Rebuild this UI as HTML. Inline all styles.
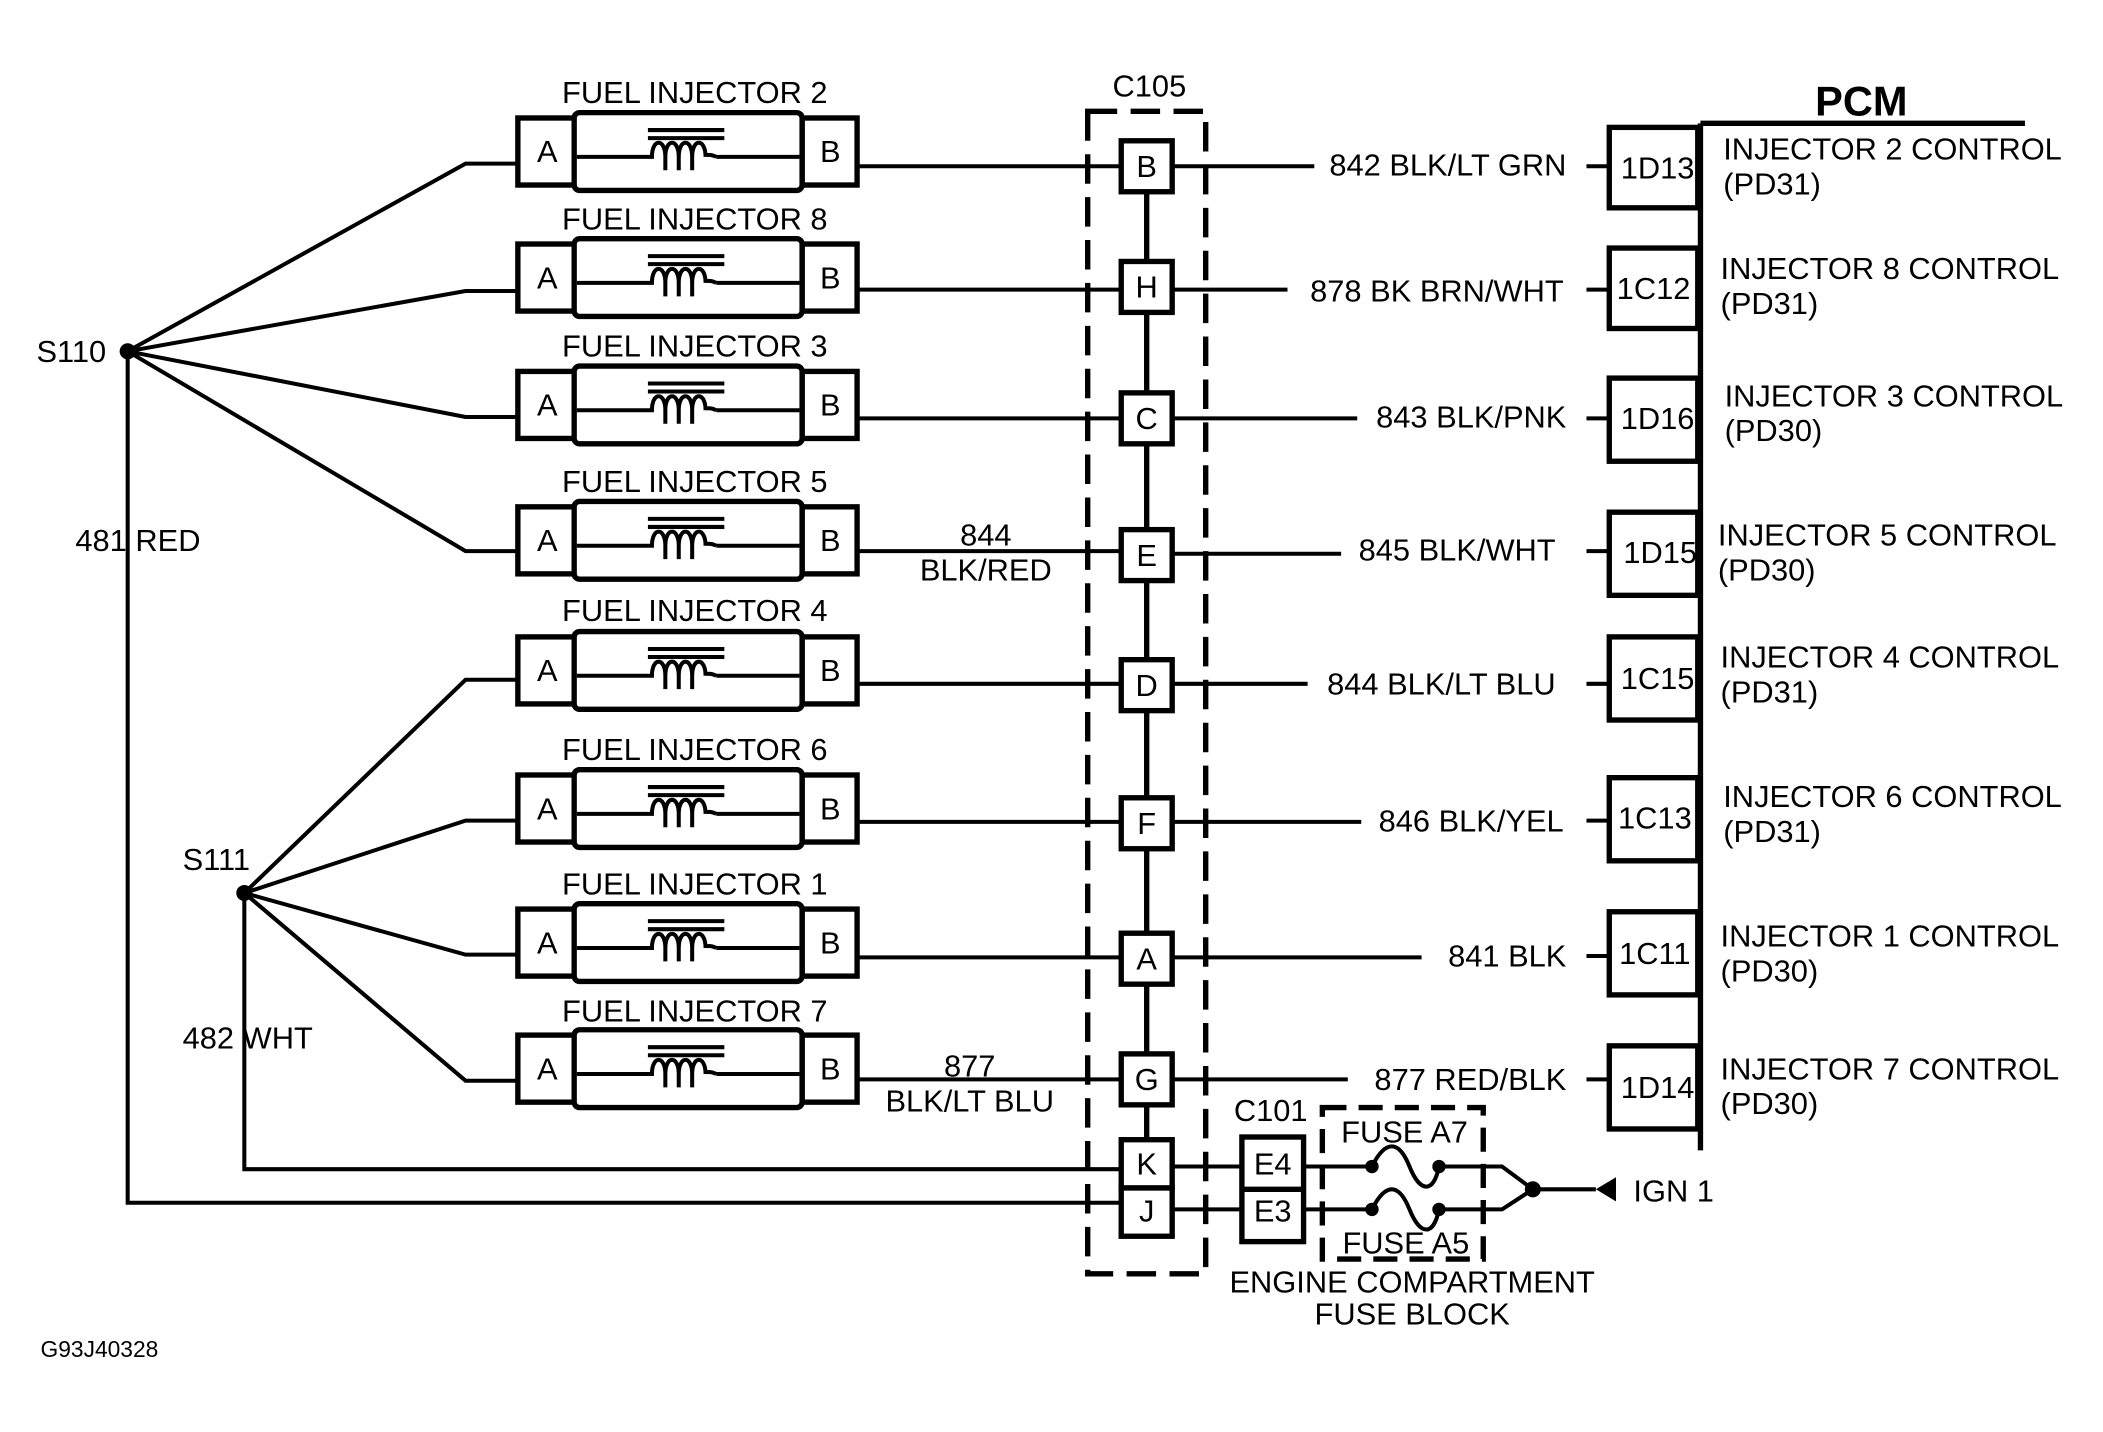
<!DOCTYPE html>
<html><head><style>html,body{margin:0;padding:0;background:#fff}svg{display:block}</style></head><body>
<svg width="2103" height="1432" viewBox="0 0 1568 1068" xmlns="http://www.w3.org/2000/svg" font-family="Liberation Sans, sans-serif" font-size="23" fill="#000">
<defs>
<g id="inj">
 <rect x="386" y="-25" width="43" height="50" fill="#fff" stroke="#000" stroke-width="4"/>
 <rect x="598" y="-25" width="41" height="50" fill="#fff" stroke="#000" stroke-width="4"/>
 <rect x="428" y="-29" width="170" height="58" rx="4" fill="#fff" stroke="#000" stroke-width="4"/>
 <path d="M430 4 H486 c0 -14 10 -14 10 0 v10 M496 4 c0 -14 10 -14 10 0 v10 M506 4 c0 -14 10 -14 10 0 v10 M516 4 c0 -14 10 -14 10 0 c0 -2 4 -2 8 0 M534 4 H596" fill="none" stroke="#000" stroke-width="3"/>
 <line x1="483" y1="-16" x2="540" y2="-16" stroke="#000" stroke-width="3"/>
 <line x1="483" y1="-10" x2="540" y2="-10" stroke="#000" stroke-width="3"/>
 <text x="408" y="8" text-anchor="middle">A</text>
 <text x="619" y="8" text-anchor="middle">B</text>
</g>
</defs>
<g stroke="#000" stroke-width="3" fill="none">
 <path d="M95 262 L347 122 H386 M95 262 L347 217 H386 M95 262 L347 311 H386 M95 262 L347 411 H386"/>
 <path d="M182 666 L347 507 H386 M182 666 L347 612 H386 M182 666 L347 712 H386 M182 666 L347 806 H386"/>
 <path d="M95 262 V897 H835 M182 666 V872 H835"/>
 <path d="M639 124 H835 M639 216 H835 M639 312 H835 M639 411 H835 M639 510 H835 M639 613 H835 M639 714 H835 M639 805 H835"/>
 <path d="M875 124 H980 M875 216 H960 M875 312 H1012 M875 413 H1000 M875 510 H975 M875 613 H1015 M875 714 H1060 M875 805 H1005"/>
 <path d="M1183 124 H1200 M1183 216 H1200 M1183 312 H1200 M1183 411 H1200 M1183 510 H1200 M1183 612 H1200 M1183 713 H1200 M1183 805 H1200"/>
 <path d="M855 124 V905" stroke-width="4"/>
 <rect x="811" y="83" width="88" height="867" stroke-width="4" stroke-dasharray="22 10"/>
 <path d="M875 870 H930 M875 902 H930 M970 870 H1023 M970 902 H1023"/>
 <path d="M1073 870 H1120 L1143 887 M1073 902 H1120 L1143 887 H1190"/>
 <path d="M1023 870 c10 -20 20 -20 28 0 c8 20 18 20 22 0 M1023 902 c10 -20 20 -20 28 0 c8 20 18 20 22 0"/>
 <rect x="986" y="826" width="120" height="113" stroke-width="4" stroke-dasharray="18 9"/>
 <path d="M1268 92 V858 M1268 92 H1510" stroke-width="4"/>
</g>
<circle cx="95" cy="262" r="6"/><circle cx="182" cy="666" r="6"/>
<circle cx="1023" cy="870" r="5"/><circle cx="1073" cy="870" r="5"/>
<circle cx="1023" cy="902" r="5"/><circle cx="1073" cy="902" r="5"/>
<circle cx="1143" cy="887" r="6"/>
<polygon points="1190,887 1205,878 1205,896"/>
<use href="#inj" y="113"/><use href="#inj" y="207"/><use href="#inj" y="302"/><use href="#inj" y="403"/>
<use href="#inj" y="500"/><use href="#inj" y="603"/><use href="#inj" y="703"/><use href="#inj" y="797"/>
<g text-anchor="middle">
 <text x="518" y="77">FUEL INJECTOR 2</text><text x="518" y="171">FUEL INJECTOR 8</text>
 <text x="518" y="266">FUEL INJECTOR 3</text><text x="518" y="367">FUEL INJECTOR 5</text>
 <text x="518" y="463">FUEL INJECTOR 4</text><text x="518" y="567">FUEL INJECTOR 6</text>
 <text x="518" y="667">FUEL INJECTOR 1</text><text x="518" y="762">FUEL INJECTOR 7</text>
 <text x="857" y="72">C105</text>
 <text x="735" y="407">844</text><text x="735" y="433">BLK/RED</text>
 <text x="723" y="803">877</text><text x="723" y="829">BLK/LT BLU</text>
 <text x="1053" y="964">ENGINE COMPARTMENT</text><text x="1053" y="988">FUSE BLOCK</text>
 <text x="1388" y="86" font-weight="bold" font-size="31">PCM</text>
</g>
<g fill="#fff" stroke="#000" stroke-width="4">
 <rect x="836" y="105" width="38" height="38"/><rect x="836" y="195" width="38" height="38"/>
 <rect x="836" y="293" width="38" height="38"/><rect x="836" y="395" width="38" height="38"/>
 <rect x="836" y="492" width="38" height="38"/><rect x="836" y="595" width="38" height="38"/>
 <rect x="836" y="696" width="38" height="38"/><rect x="836" y="786" width="38" height="38"/>
 <rect x="836" y="850" width="38" height="36"/><rect x="836" y="886" width="38" height="36"/>
 <rect x="926" y="848" width="46" height="78"/>
 <line x1="926" y1="887" x2="972" y2="887"/>
 <rect x="1200" y="95" width="66" height="60"/><rect x="1200" y="185" width="66" height="60"/>
 <rect x="1200" y="282" width="66" height="62"/><rect x="1200" y="382" width="66" height="62"/>
 <rect x="1200" y="475" width="66" height="62"/><rect x="1200" y="580" width="66" height="62"/>
 <rect x="1200" y="680" width="66" height="62"/><rect x="1200" y="780" width="66" height="62"/>
</g>
<g text-anchor="middle">
 <text x="855" y="132">B</text><text x="855" y="222">H</text><text x="855" y="320">C</text>
 <text x="855" y="422">E</text><text x="855" y="519">D</text><text x="855" y="622">F</text>
 <text x="855" y="723">A</text><text x="855" y="813">G</text><text x="855" y="876">K</text><text x="855" y="911">J</text>
 <text x="949" y="876">E4</text><text x="949" y="911">E3</text>
 <text x="1236" y="133">1D13</text><text x="1233" y="223">1C12</text><text x="1236" y="320">1D16</text>
 <text x="1238" y="420">1D15</text><text x="1236" y="514">1C15</text><text x="1234" y="618">1C13</text>
 <text x="1234" y="719">1C11</text><text x="1236" y="819">1D14</text>
</g>
<g text-anchor="end">
 <text x="1168" y="131">842 BLK/LT GRN</text><text x="1166" y="225">878 BK BRN/WHT</text>
 <text x="1168" y="319">843 BLK/PNK</text><text x="1160" y="418">845 BLK/WHT</text>
 <text x="1160" y="518">844 BLK/LT BLU</text><text x="1166" y="620">846 BLK/YEL</text>
 <text x="1168" y="721">841 BLK</text><text x="1168" y="813">877 RED/BLK</text>
</g>
<g>
 <text x="1285" y="119">INJECTOR 2 CONTROL</text><text x="1285" y="145">(PD31)</text>
 <text x="1283" y="208">INJECTOR 8 CONTROL</text><text x="1283" y="234">(PD31)</text>
 <text x="1286" y="303">INJECTOR 3 CONTROL</text><text x="1286" y="329">(PD30)</text>
 <text x="1281" y="407">INJECTOR 5 CONTROL</text><text x="1281" y="433">(PD30)</text>
 <text x="1283" y="498">INJECTOR 4 CONTROL</text><text x="1283" y="524">(PD31)</text>
 <text x="1285" y="602">INJECTOR 6 CONTROL</text><text x="1285" y="628">(PD31)</text>
 <text x="1283" y="706">INJECTOR 1 CONTROL</text><text x="1283" y="732">(PD30)</text>
 <text x="1283" y="805">INJECTOR 7 CONTROL</text><text x="1283" y="831">(PD30)</text>
 <text x="27" y="270">S110</text><text x="56" y="411">481 RED</text>
 <text x="136" y="649">S111</text><text x="136" y="782">482 WHT</text>
 <text x="920" y="836">C101</text>
 <text x="1000" y="852">FUSE A7</text><text x="1001" y="935">FUSE A5</text>
 <text x="1218" y="896">IGN 1</text>
 <text x="30" y="1012" font-size="17">G93J40328</text>
</g>
</svg>
</body></html>
